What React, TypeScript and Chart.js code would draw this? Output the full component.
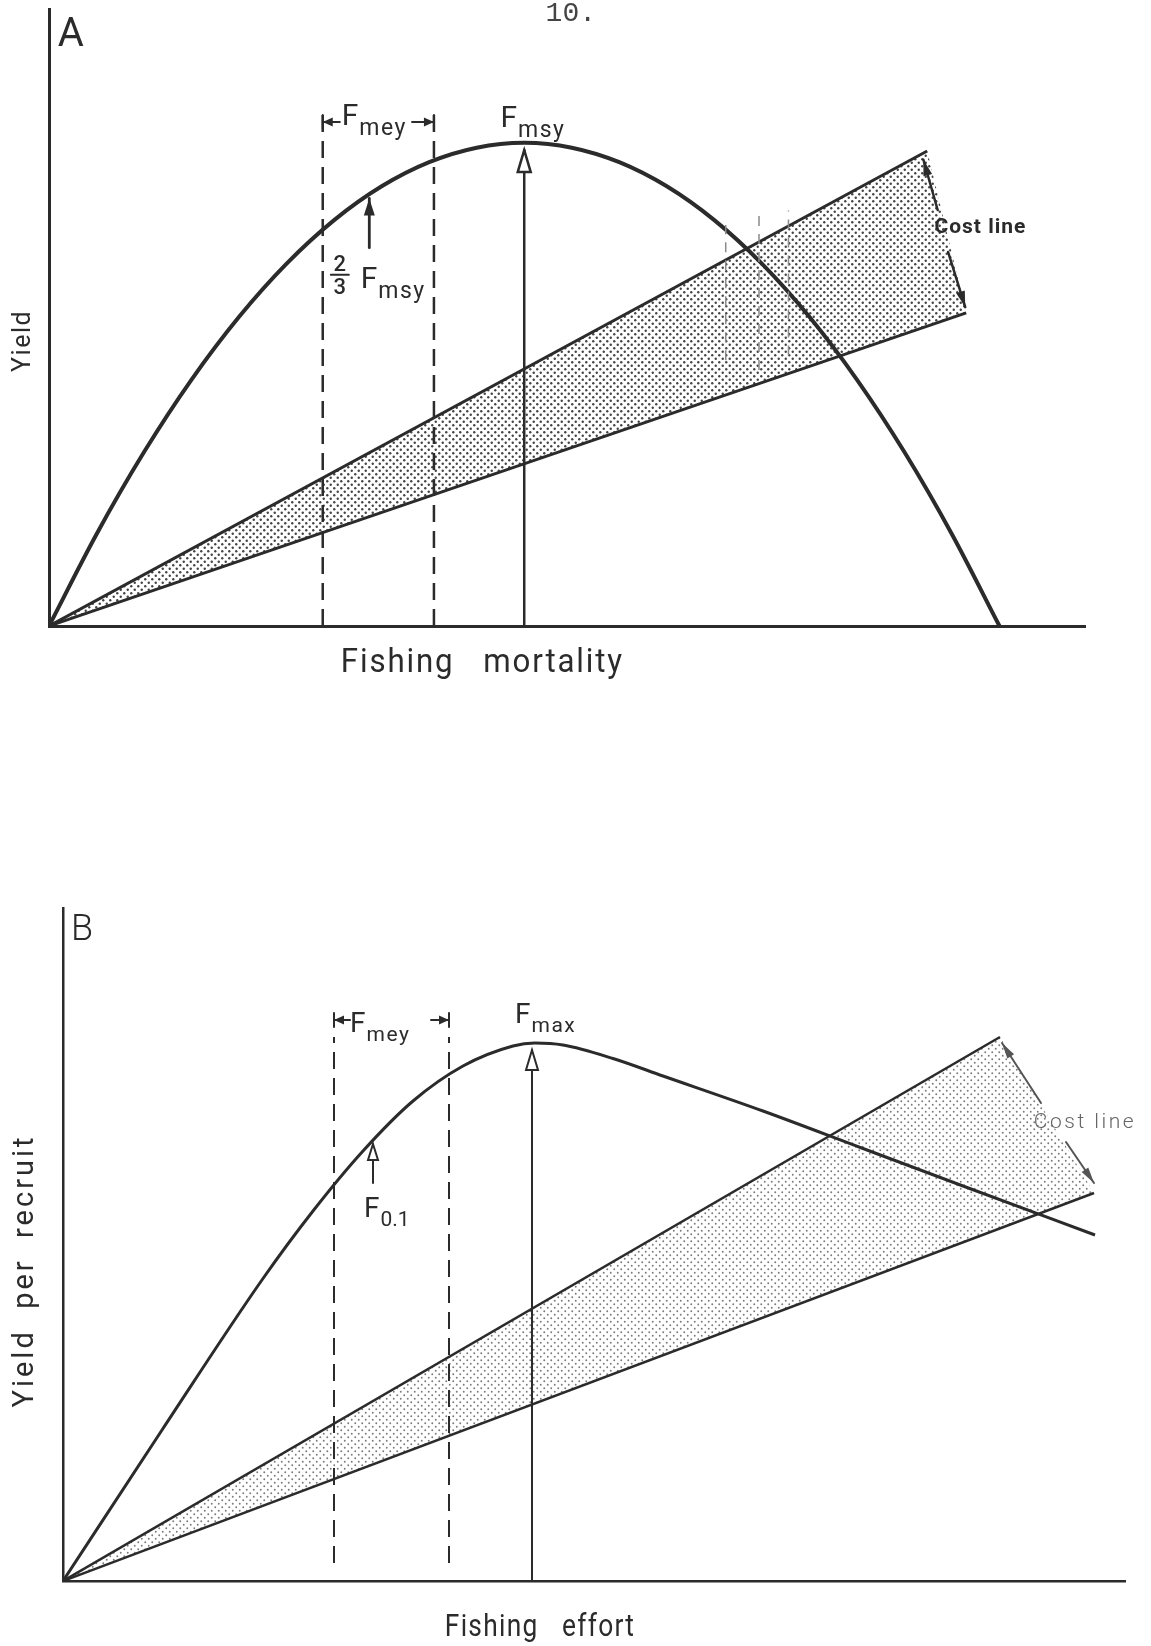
import React, { useEffect, useRef } from "react";
import { Chart, registerables } from "chart.js";
Chart.register(...registerables);

const FONT = 'Roboto, "Noto Sans", "DejaVu Sans", sans-serif';
const INK = "#2b2b2b";

// ---------- Panel A: yield vs fishing mortality (arbitrary units) ----------
const A_X_MAX = 10.9;
const A_Y_MAX = 12.77;
const A_CURVE_X = [0, 0.5, 1, 1.5, 2, 2.5, 3, 3.5, 4, 4.5, 5, 5.5, 6, 6.5, 7, 7.5, 8, 8.5, 9, 9.5, 10];
const A_CURVE_Y = [0, 1.9, 3.6, 5.1, 6.4, 7.5, 8.4, 9.1, 9.6, 9.9, 10, 9.9, 9.6, 9.1, 8.4, 7.5, 6.4, 5.1, 3.6, 1.9, 0];
const A_COST_HIGH_END = [9.24, 9.83];
const A_COST_LOW_END = [9.65, 6.48];
const A_FMEY = [2.88, 4.05];
const A_FMEY_TOP = 10.62;
const A_FMSY = 5;
const A_FMSY_TIP = 9.85;
const A_TWO_THIRDS = 3.37;
const A_TWO_THIRDS_RANGE = [7.83, 8.85];
const A_GHOST_X = [7.12, 7.47, 7.78];
const A_GHOST_LOW = [5.5, 5.3, 5.6];
const A_GHOST_HIGH = [8.3, 8.5, 8.6];

// ---------- Panel B: yield per recruit vs fishing effort ----------
const B_X_MAX = 10.62;
const B_Y_MAX = 13.46;
const B_CURVE_X = [0, 1, 2, 2.5, 3, 3.5, 4, 4.5, 4.72, 5, 5.5, 6, 7, 8, 9, 10.32];
const B_CURVE_Y = [0, 3.05, 6.05, 7.4, 8.6, 9.6, 10.3, 10.7, 10.76, 10.72, 10.45, 10.1, 9.4, 8.65, 7.9, 6.92];
const B_COST_HIGH_END = [9.37, 10.88];
const B_COST_LOW_END = [10.31, 7.76];
const B_FMEY = [2.71, 3.86];
const B_FMEY_RANGE = [0.36, 10.88];
const B_FMAX = 4.69;
const B_FMAX_TIP = 10.62;
const B_F01 = 3.1;
const B_F01_RANGE = [7.96, 8.74];

type Pt = { x: number; y: number };
const pts = (xs: number[], ys: number[]): Pt[] => xs.map((x, i) => ({ x, y: ys[i] }));

type Label = {
  text: string; sub?: string; x: number; y: number; size: number; subSize?: number;
  align?: "left" | "center"; weight?: string; color?: string; family?: string; rotate?: boolean; spacing?: number; subSpacing?: number; sx?: number;
};
type Arrow = { x1: number; y1: number; x2: number; y2: number; open?: boolean; color?: string; width?: number; len?: number; half?: number };
type Bracket = { tick: number; from: number; y: number };
type Frac = { x: number; y: number; size: number };
type Spec = { labels: Label[]; arrows: Arrow[]; brackets: Bracket[]; fracs?: Frac[] };

function makePattern(color: string, step: number, r: number) {
  const c = document.createElement("canvas");
  c.width = step; c.height = step;
  const g = c.getContext("2d")!;
  g.fillStyle = color;
  for (const [cx, cy] of [[step / 4, step / 4], [(3 * step) / 4, (3 * step) / 4]]) {
    g.beginPath(); g.arc(cx, cy, r, 0, Math.PI * 2); g.fill();
  }
  return g.createPattern(c, "repeat")!;
}

function head(ctx: CanvasRenderingContext2D, tx: number, ty: number, fx: number, fy: number, len: number, half: number, open: boolean) {
  const dx = fx - tx, dy = fy - ty;
  const d = Math.hypot(dx, dy) || 1;
  const ux = dx / d, uy = dy / d;
  const bx = tx + ux * len, by = ty + uy * len;
  const px = -uy * half, py = ux * half;
  ctx.beginPath();
  ctx.moveTo(tx, ty);
  ctx.lineTo(bx + px, by + py);
  ctx.lineTo(bx - px, by - py);
  ctx.closePath();
  if (open) { ctx.fillStyle = "#fff"; ctx.fill(); ctx.stroke(); } else { ctx.fill(); }
}

function makePlugin(spec: Spec, id = "figure") {
  return {
    id,
    afterDraw(chart: any) {
      const ctx: CanvasRenderingContext2D = chart.ctx;
      const xs = chart.scales.x, ys = chart.scales.y;
      const X = (v: number) => xs.getPixelForValue(v);
      const Y = (v: number) => ys.getPixelForValue(v);
      ctx.save();
      ctx.lineCap = "round";
      for (const a of spec.arrows) {
        const c = a.color || INK;
        ctx.strokeStyle = c; ctx.fillStyle = c; ctx.lineWidth = a.width || 2.5;
        const x1 = X(a.x1), y1 = Y(a.y1), x2 = X(a.x2), y2 = Y(a.y2);
        ctx.beginPath(); ctx.moveTo(x1, y1); ctx.lineTo(x2, y2); ctx.stroke();
        ctx.fillStyle = c;
        head(ctx, x2, y2, x1, y1, a.len || 16, a.half || 5, !!a.open);
      }
      for (const b of spec.brackets) {
        ctx.strokeStyle = INK; ctx.fillStyle = INK; ctx.lineWidth = 2;
        const tx = X(b.tick), fx = X(b.from), y = Y(b.y);
        ctx.beginPath(); ctx.moveTo(tx, y - 7); ctx.lineTo(tx, y + 7); ctx.stroke();
        ctx.beginPath(); ctx.moveTo(fx, y); ctx.lineTo(tx, y); ctx.stroke();
        head(ctx, tx, y, fx, y, 10, 4.5, false);
      }
      for (const f of spec.fracs || []) {
        const cx = X(f.x), cy = Y(f.y);
        ctx.fillStyle = INK; ctx.strokeStyle = INK; ctx.lineWidth = 2;
        ctx.font = `500 ${f.size}px ${FONT}`;
        ctx.textAlign = "center"; ctx.textBaseline = "alphabetic";
        ctx.fillText("2", cx, cy - 4);
        ctx.beginPath(); ctx.moveTo(cx - 9, cy); ctx.lineTo(cx + 9, cy); ctx.stroke();
        ctx.textBaseline = "top";
        ctx.fillText("3", cx, cy + 3);
      }
      for (const l of spec.labels) {
        ctx.save();
        ctx.fillStyle = l.color || INK;
        const fam = l.family || FONT;
        ctx.font = `${l.weight || "400"} ${l.size}px ${fam}`;
        (ctx as any).letterSpacing = `${l.spacing || 0}px`;
        const px = X(l.x), py = Y(l.y);
        ctx.translate(px, py);
        if (l.rotate) ctx.rotate(-Math.PI / 2);
        if (l.sx) ctx.scale(l.sx, 1);
        if (l.sub) {
          ctx.textAlign = "left"; ctx.textBaseline = "alphabetic";
          ctx.fillText(l.text, 0, 0);
          const w = ctx.measureText(l.text).width;
          const ss = l.subSize || l.size * 0.7;
          ctx.font = `${l.weight || "400"} ${ss}px ${fam}`;
          (ctx as any).letterSpacing = `${l.subSpacing || 0}px`;
          ctx.fillText(l.sub, w + 1, ss * 0.45);
        } else {
          ctx.textAlign = l.align || "center"; ctx.textBaseline = "middle";
          ctx.fillText(l.text, 0, 0);
        }
        ctx.restore();
      }
      ctx.restore();
    },
  };
}

const line = (data: Pt[], extra: any = {}) => ({
  data, borderColor: INK, borderWidth: 3, pointRadius: 0, fill: false, tension: 0, ...extra,
});

function baseOptions(xMax: number, yMax: number, padding: any, axisWidth: number) {
  const axis = (max: number) => ({
    type: "linear", min: 0, max, display: true,
    grid: { display: false, drawTicks: false },
    ticks: { display: false },
    border: { display: true, color: INK, width: axisWidth },
    title: { display: false },
  });
  return {
    responsive: false, animation: false, events: [],
    layout: { padding },
    plugins: { legend: { display: false }, tooltip: { enabled: false } },
    scales: { x: axis(xMax), y: axis(yMax) },
  };
}

function PanelA() {
  const ref = useRef<HTMLCanvasElement>(null);
  useEffect(() => {
    const pattern = makePattern("#444", 7, 1.2);
    const spec: Spec = {
      labels: [
        { text: "A", x: 0.23, y: 12.21, size: 40 },
        { text: "10.", x: 5.49, y: 12.68, size: 28, family: '"Liberation Mono", "DejaVu Sans Mono", monospace', color: "#444" },
        { text: "F", sub: "mey", x: 3.08, y: 10.37, size: 30, subSize: 23, subSpacing: 1.5 },
        { text: "F", sub: "msy", x: 4.75, y: 10.33, size: 30, subSize: 23, subSpacing: 1.5 },
        { text: "F", sub: "msy", x: 3.28, y: 7.0, size: 30, subSize: 23, subSpacing: 1.5 },
        { text: "Cost line", x: 9.8, y: 8.24, size: 21, weight: "700", spacing: 1 },
        { text: "Yield", x: -0.27, y: 5.9, size: 25, rotate: true, spacing: 1.5 },
        { text: "Fishing   mortality", x: 4.56, y: -0.77, size: 34, spacing: 2, sx: 0.92 },
      ],
      arrows: [
        { x1: A_TWO_THIRDS, y1: A_TWO_THIRDS_RANGE[0], x2: A_TWO_THIRDS, y2: A_TWO_THIRDS_RANGE[1], len: 17, half: 5.5, width: 2.8 },
        { x1: 9.35, y1: 8.61, x2: 9.2, y2: 9.65, len: 16, half: 4.5 },
        { x1: 9.46, y1: 7.74, x2: 9.64, y2: 6.6, len: 16, half: 4.5 },
      ],
      brackets: [
        { tick: A_FMEY[0], from: 3.06, y: 10.43 },
        { tick: A_FMEY[1], from: 3.82, y: 10.43 },
      ],
      fracs: [{ x: 3.06, y: 7.27, size: 22 }],
    };
    const arrowSpec: Spec = {
      labels: [], brackets: [],
      arrows: [{ x1: A_FMSY, y1: A_FMSY_TIP - 0.02, x2: A_FMSY, y2: A_FMSY_TIP, open: true, len: 22, half: 6.5, width: 2.5 }],
    };
    const ghosts = A_GHOST_X.map((gx, i) =>
      line([{ x: gx, y: A_GHOST_LOW[i] }, { x: gx, y: A_GHOST_HIGH[i] }], { borderWidth: 1.5, borderColor: "#8a8a8a", borderDash: [10, 8] }));
    const chart = new Chart(ref.current!, {
      type: "line",
      data: {
        datasets: [
          line([{ x: 0, y: 0 }, { x: A_COST_HIGH_END[0], y: A_COST_HIGH_END[1] }, { x: A_COST_LOW_END[0], y: A_COST_LOW_END[1] }],
            { borderWidth: 0, fill: "shape", backgroundColor: pattern, order: 10 }),
          ...ghosts,
          line(pts(A_CURVE_X, A_CURVE_Y), { borderWidth: 4, cubicInterpolationMode: "monotone" }),
          line([{ x: 0, y: 0 }, { x: A_COST_HIGH_END[0], y: A_COST_HIGH_END[1] }], { borderWidth: 3 }),
          line([{ x: 0, y: 0 }, { x: A_COST_LOW_END[0], y: A_COST_LOW_END[1] }], { borderWidth: 3 }),
          line([{ x: A_FMEY[0], y: 0 }, { x: A_FMEY[0], y: A_FMEY_TOP }], { borderWidth: 2.5, borderDash: [17, 9] }),
          line([{ x: A_FMEY[1], y: 0 }, { x: A_FMEY[1], y: A_FMEY_TOP }], { borderWidth: 2.5, borderDash: [17, 9] }),
          line([{ x: A_FMSY, y: 0 }, { x: A_FMSY, y: A_FMSY_TIP }], { borderWidth: 2.5 }),
        ],
      },
      options: baseOptions(A_X_MAX, A_Y_MAX, { left: 49, right: 66, top: 9, bottom: 134 }, 3) as any,
      plugins: [makePlugin(spec), makePlugin(arrowSpec, "figureArrow")],
    });
    return () => chart.destroy();
  }, []);
  return <canvas ref={ref} width={1151} height={760} style={{ position: "absolute", left: 0, top: 0 }} />;
}

function PanelB() {
  const ref = useRef<HTMLCanvasElement>(null);
  useEffect(() => {
    const pattern = makePattern("#7a7a7a", 7, 0.95);
    const spec: Spec = {
      labels: [
        { text: "B", x: 0.19, y: 13.0, size: 36, weight: "300" },
        { text: "F", sub: "mey", x: 2.87, y: 10.98, size: 28, subSize: 21, subSpacing: 1.5 },
        { text: "F", sub: "max", x: 4.52, y: 11.16, size: 28, subSize: 21, subSpacing: 1.5 },
        { text: "F", sub: "0.1", x: 3.01, y: 7.28, size: 28, subSize: 21 },
        { text: "Cost line", x: 10.22, y: 9.16, size: 21, weight: "300", color: "#666", spacing: 2.5 },
        { text: "Yield  per  recruit", x: -0.37, y: 6.2, size: 29, rotate: true, spacing: 3 },
        { text: "Fishing   effort", x: 4.77, y: -0.94, size: 31, spacing: 1.5, sx: 0.85 },
      ],
      arrows: [
        { x1: B_F01, y1: B_F01_RANGE[0], x2: B_F01, y2: B_F01_RANGE[1], open: true, len: 16, half: 5, width: 2 },
        { x1: B_FMAX, y1: B_FMAX_TIP - 0.02, x2: B_FMAX, y2: B_FMAX_TIP, open: true, len: 20, half: 6, width: 2 },
        { x1: 9.78, y1: 9.56, x2: 9.39, y2: 10.76, len: 16, half: 4, color: "#555", width: 2 },
        { x1: 10.03, y1: 8.78, x2: 10.31, y2: 7.96, len: 16, half: 4, color: "#555", width: 2 },
      ],
      brackets: [
        { tick: B_FMEY[0], from: 2.87, y: 11.22 },
        { tick: B_FMEY[1], from: 3.68, y: 11.22 },
      ],
    };
    const chart = new Chart(ref.current!, {
      type: "line",
      data: {
        datasets: [
          line([{ x: 0, y: 0 }, { x: B_COST_HIGH_END[0], y: B_COST_HIGH_END[1] }, { x: B_COST_LOW_END[0], y: B_COST_LOW_END[1] }],
            { borderWidth: 0, fill: "shape", backgroundColor: pattern, order: 10 }),
          line(pts(B_CURVE_X, B_CURVE_Y), { borderWidth: 3, cubicInterpolationMode: "monotone" }),
          line([{ x: 0, y: 0 }, { x: B_COST_HIGH_END[0], y: B_COST_HIGH_END[1] }], { borderWidth: 2.5 }),
          line([{ x: 0, y: 0 }, { x: B_COST_LOW_END[0], y: B_COST_LOW_END[1] }], { borderWidth: 2.5 }),
          line([{ x: B_FMEY[0], y: B_FMEY_RANGE[0] }, { x: B_FMEY[0], y: B_FMEY_RANGE[1] }], { borderWidth: 2, borderDash: [17, 9] }),
          line([{ x: B_FMEY[1], y: B_FMEY_RANGE[0] }, { x: B_FMEY[1], y: B_FMEY_RANGE[1] }], { borderWidth: 2, borderDash: [17, 9] }),
          line([{ x: B_FMAX, y: 0 }, { x: B_FMAX, y: B_FMAX_TIP }], { borderWidth: 2 }),
        ],
      },
      options: baseOptions(B_X_MAX, B_Y_MAX, { left: 63, right: 26, top: 148, bottom: 65 }, 2.5) as any,
      plugins: [makePlugin(spec)],
    });
    return () => chart.destroy();
  }, []);
  return <canvas ref={ref} width={1151} height={886} style={{ position: "absolute", left: 0, top: 760 }} />;
}

export default function App() {
  useEffect(() => {
    document.body.style.margin = "0";
    document.body.style.background = "#fff";
  }, []);
  return (
    <div style={{ position: "relative", width: 1151, height: 1646, background: "#fff", overflow: "hidden" }}>
      <PanelA />
      <PanelB />
    </div>
  );
}
